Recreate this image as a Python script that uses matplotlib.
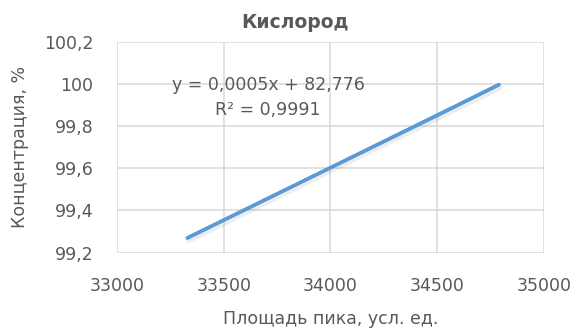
import numpy as np
import matplotlib.pyplot as plt
from matplotlib.ticker import FuncFormatter

# peak area vs. oxygen concentration
area = [33330, 34530, 34790]
conc = [99.27, 99.865, 99.997]

x_ticks = [33000, 33500, 34000, 34500, 35000]
y_ticks = [99.2, 99.4, 99.6, 99.8, 100.0, 100.2]

plt.rcParams['font.family'] = ['DejaVu Sans']
txt = '#595959'
blue = '#5B9BD5'

fig = plt.figure(figsize=(5.77, 3.32), dpi=100)
ax = fig.add_axes([0.2028, 0.2389, 0.7395, 0.6355])

# linear trendline fitted to the points
k, b = np.polyfit(area, conc, 1)
xs = np.array([min(area), max(area)])
ax.plot(xs + 6, k * xs + b - 0.012, color='#000000', alpha=0.07, lw=4,
        solid_capstyle='round', zorder=2)
ax.plot(xs, k * xs + b, color=blue, lw=2.5, solid_capstyle='round', zorder=3)
ax.plot(area, conc, color=blue, lw=2.5, solid_capstyle='round', zorder=3)

ax.set_xlim(33000, 35000)
ax.set_ylim(99.2, 100.2)
ax.set_xticks(x_ticks)
ax.set_yticks(y_ticks)
ax.yaxis.set_major_formatter(FuncFormatter(lambda v, p: f'{v:g}'.replace('.', ',')))
ax.grid(True, color='#D9D9D9', lw=1.1)
ax.set_axisbelow(True)
for s in ax.spines.values():
    s.set_visible(False)
ax.tick_params(length=0, labelsize=12.5, colors=txt)
ax.tick_params(axis='x', pad=17.5)
ax.tick_params(axis='y', pad=17)

fig.text(295 / 577, 1 - 22 / 332, 'Кислород', fontsize=13.5, fontweight='bold',
         color=txt, ha='center', va='center')
ax.set_xlabel('Площадь пика, усл. ед.', fontsize=12.5, color=txt, va='center')
ax.xaxis.set_label_coords(0.5, -0.314)
ax.set_ylabel('Концентрация, %', fontsize=12.5, color=txt, va='center')
ax.yaxis.set_label_coords(-0.228, 0.5)

ax.text(0.356, 0.795, 'y = 0,0005x + 82,776', transform=ax.transAxes,
        ha='center', va='center', fontsize=12.5, color=txt)
ax.text(0.354, 0.676, 'R² = 0,9991', transform=ax.transAxes,
        ha='center', va='center', fontsize=12.5, color=txt)

fig.savefig('out.png', dpi=100)
